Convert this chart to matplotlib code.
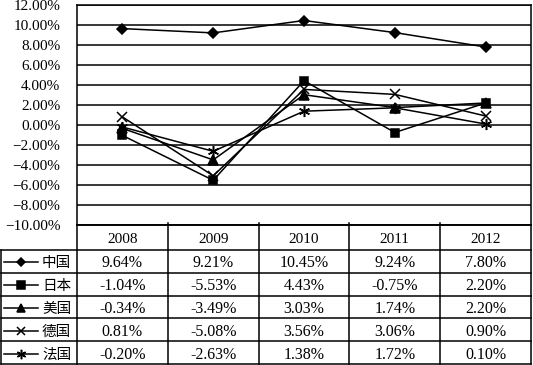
import matplotlib
matplotlib.use("Agg")
import matplotlib.pyplot as plt
import numpy as np

years = ["2008", "2009", "2010", "2011", "2012"]
countries = ["中国", "日本", "美国", "德国", "法国"]
china = [9.64, 9.21, 10.45, 9.24, 7.80]
japan = [-1.04, -5.53, 4.43, -0.75, 2.20]
usa = [-0.34, -3.49, 3.03, 1.74, 2.20]
germany = [0.81, -5.08, 3.56, 3.06, 0.90]
france = [-0.20, -2.63, 1.38, 1.72, 0.10]
series = [china, japan, usa, germany, france]
yticks = [12, 10, 8, 6, 4, 2, 0, -2, -4, -6, -8, -10]

markers = ["D", "s", "^", "x", (6, 2, 0)]
msizes = [5, 6, 7, 7, 8]

W, H = 533, 365
fig = plt.figure(figsize=(W / 100, H / 100), dpi=100)
serif = ["Liberation Serif", "DejaVu Serif"]
cjk = ["Noto Sans CJK SC", "DejaVu Sans"]

# plot area (pixels)
L, R, T, B = 77, 531, 5, 225
ax = fig.add_axes([L / W, 1 - B / H, (R - L) / W, (B - T) / H])
x = np.arange(len(years))
for vals, m, ms in zip(series, markers, msizes):
    ax.plot(x, vals, color="black", lw=1.1, marker=m, markersize=ms,
            markeredgewidth=1.1, markerfacecolor="black", markeredgecolor="black",
            zorder=3)
ax.set_xlim(-0.5, len(years) - 0.5)
ax.set_ylim(-10, 12)
ax.set_yticks(yticks)
ax.set_yticklabels([(f"{v:.2f}%").replace("-", "\u2212") for v in yticks],
                   fontfamily=serif, fontsize=11)
ax.tick_params(axis="y", length=0, pad=12)
ax.set_xticks([])
for v in yticks:
    ax.axhline(v, color="black", lw=1.1, zorder=1)
for s in ax.spines.values():
    s.set_color("black")
    s.set_linewidth(1.1)

# table overlay in pixel coordinates
tab = fig.add_axes([0, 0, 1, 1])
tab.set_xlim(0, W)
tab.set_ylim(H, 0)
tab.axis("off")
tab.patch.set_alpha(0)

col_edges = np.linspace(L, R, len(years) + 1)
header_bottom = 250
row_edges = np.linspace(header_bottom, 364, len(countries) + 1)
lk = dict(color="black", lw=1.1)
for yy in row_edges:
    tab.plot([1, R], [yy, yy], **lk)
tab.plot([L, R], [B, B], **lk)
tab.plot([1, 1], [header_bottom, row_edges[-1]], **lk)
for xx in col_edges:
    tab.plot([xx, xx], [B - 2 if xx not in (L, R) else B, row_edges[-1]], **lk)

for i, yr in enumerate(years):
    cx = (col_edges[i] + col_edges[i + 1]) / 2
    tab.text(cx, (B + header_bottom) / 2 + 2, yr, ha="center", va="center",
             fontfamily=serif, fontsize=11)

for r, (name, vals, m, ms) in enumerate(zip(countries, series, markers, msizes)):
    cy = (row_edges[r] + row_edges[r + 1]) / 2
    tab.plot([4, 38], [cy + 1, cy + 1], color="black", lw=1.1)
    tab.plot([21], [cy + 1], color="black", marker=m, markersize=ms * 0.85,
             markerfacecolor="black", markeredgecolor="black", markeredgewidth=1.1)
    tab.text(42, cy + 2, name, ha="left", va="center", fontfamily=cjk, fontsize=10.5)
    for i, v in enumerate(vals):
        cx = (col_edges[i] + col_edges[i + 1]) / 2
        tab.text(cx, cy + 2, f"{v:.2f}%", ha="center", va="center",
                 fontfamily=serif, fontsize=11.5)

fig.savefig("out.png", dpi=100)
